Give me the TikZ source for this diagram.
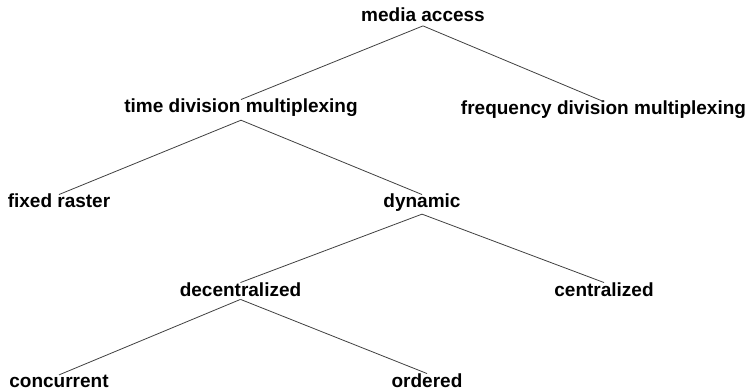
\documentclass[tikz,border=0pt]{standalone}
\usepackage{fontspec}
\setmainfont{Liberation Sans}
\begin{document}
\begin{tikzpicture}[x=1pt,y=-1pt,
  lbl/.style={anchor=base,inner sep=2pt,font=\fontsize{19}{23}\selectfont\bfseries},
  branch/.style={draw=black!75,line width=0.8pt}]
\useasboundingbox (0,0) rectangle (750,390);
\node[lbl] (media) at (423,22) {media access};
\node[lbl] (tdm) at (241,113) {time division multiplexing};
\node[lbl] (fdm) at (603.5,115) {frequency division multiplexing};
\node[lbl] (fixed) at (59,208) {fixed raster};
\node[lbl] (dyn) at (422,208) {dynamic};
\node[lbl] (dec) at (240.5,296) {decentralized};
\node[lbl] (cen) at (604,296) {centralized};
\node[lbl] (conc) at (59,387) {concurrent};
\node[lbl] (ord) at (427,387) {ordered};
\draw[branch] ([yshift=-1.5pt]media.south) -- ([yshift=-2.5pt]tdm.north);
\draw[branch] ([yshift=-1.5pt]media.south) -- ([yshift=-2.5pt]fdm.north);
\draw[branch] ([yshift=-1pt]tdm.south) -- ([yshift=-2.5pt]fixed.north);
\draw[branch] ([yshift=-1pt]tdm.south) -- ([yshift=-2.5pt]dyn.north);
\draw[branch] (dyn.south) -- ([yshift=-2.5pt]dec.north);
\draw[branch] (dyn.south) -- ([yshift=-2.5pt]cen.north);
\draw[branch] ([yshift=-1pt]dec.south) -- ([yshift=-2.5pt]conc.north);
\draw[branch] ([yshift=-1pt]dec.south) -- ([yshift=-2.5pt]ord.north);
\end{tikzpicture}
\end{document}
